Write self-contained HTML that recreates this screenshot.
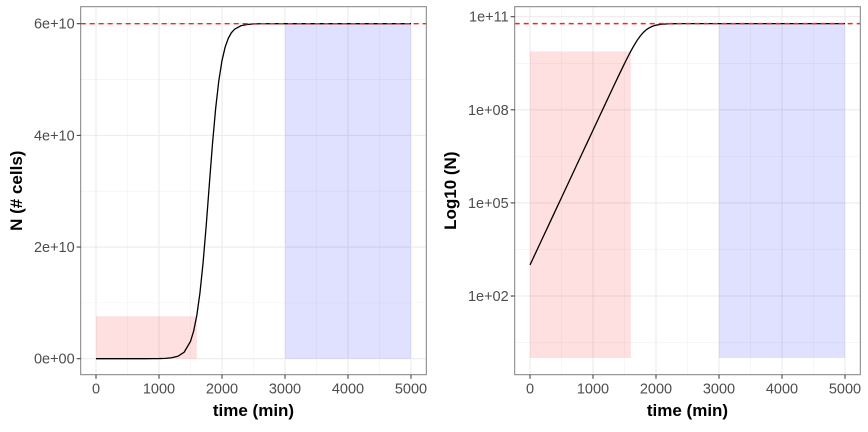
<!DOCTYPE html>
<html><head><meta charset="utf-8"><style>
body{margin:0;background:#fff;}
svg text{font-family:"Liberation Sans",Arial,sans-serif;}
</style></head><body>
<svg id="chart" width="868" height="427" xmlns="http://www.w3.org/2000/svg"></svg>
<script>
const times=[0,100,200,300,400,500,600,700,800,900,1000,1100,1200,1300,1400,1500,1550,1600,1650,1700,1750,1800,1850,1900,1950,2000,2050,2100,2150,2200,2300,2400,2500,2600,3000,4000,5000];
const cells=[1000,2718,7389,20086,54598,1.484e5,4.034e5,1.097e6,2.981e6,8.103e6,2.2e7,5.98e7,1.623e8,4.39e8,1.179e9,3.10e9,4.95e9,7.74e9,1.178e10,1.723e10,2.394e10,3.136e10,3.861e10,4.491e10,4.984e10,5.34e10,5.581e10,5.739e10,5.839e10,5.901e10,5.963e10,5.986e10,5.995e10,5.999e10,6e10,6e10,6e10];
const capacity=6e10;
const xTicks=[0,1000,2000,3000,4000,5000];
const linTicks=[0,2e10,4e10,6e10];
const linLabels=["0e+00","2e+10","4e+10","6e+10"];
const logTicks=[2,5,8,11];
const logLabels=["1e+02","1e+05","1e+08","1e+11"];
const expPhase=[0,1600,7.6e9];   // start, end, top
const statPhase=[3000,5000];
const logFloor=1;

const svg=document.getElementById('chart');
const NS='http://www.w3.org/2000/svg';
function mk(tag,attrs,parent){const e=document.createElementNS(NS,tag);for(const k in attrs)e.setAttribute(k,attrs[k]);(parent||svg).appendChild(e);return e;}

function panel(p){
  const g=mk('g',{});
  
  
  const X=t=>p.x0+(t-0)/5000*(p.x1-p.x0);
  const Y=p.Y;
  const minorX=[500,1500,2500,3500,4500];
  minorX.forEach(t=>mk('line',{x1:X(t),x2:X(t),y1:p.top,y2:p.bot,stroke:'#f2f2f2','stroke-width':0.6},g));
  p.minorY.forEach(v=>mk('line',{x1:p.left,x2:p.right,y1:Y(v),y2:Y(v),stroke:'#f2f2f2','stroke-width':0.6},g));
  xTicks.forEach(t=>mk('line',{x1:X(t),x2:X(t),y1:p.top,y2:p.bot,stroke:'#ebebeb','stroke-width':1.1},g));
  p.ticks.forEach(v=>mk('line',{x1:p.left,x2:p.right,y1:Y(v),y2:Y(v),stroke:'#ebebeb','stroke-width':1.1},g));
  const r1=mk('rect',{x:X(expPhase[0]),y:Y(p.expTop),width:X(expPhase[1])-X(expPhase[0]),height:Y(p.base)-Y(p.expTop),fill:'rgba(255,0,0,0.12)'},g);
  
  
  const r2=mk('rect',{x:X(statPhase[0]),y:Y(p.statTop),width:X(statPhase[1])-X(statPhase[0]),height:Y(p.base)-Y(p.statTop),fill:'rgba(0,0,255,0.12)'},g);
  
  
  const d=times.map((t,i)=>(i?'L':'M')+X(t).toFixed(2)+','+Y(p.val(cells[i])).toFixed(2)).join(' ');
  const path=mk('path',{d:d,fill:'none',stroke:'#000','stroke-width':1.3},g);
  
  
  const cl=mk('line',{x1:p.left,x2:p.right,y1:Y(p.cap),y2:Y(p.cap),stroke:'#ff2020','stroke-width':1.4,'stroke-dasharray':'5,4'},g);
  
  
  mk('rect',{x:p.left,y:p.top,width:p.right-p.left,height:p.bot-p.top,fill:'none',stroke:'#7f7f7f','stroke-width':1},g);
  xTicks.forEach(t=>{
    mk('line',{x1:X(t),x2:X(t),y1:p.bot,y2:p.bot+4,stroke:'#333','stroke-width':1},g);
    const tx=mk('text',{x:X(t),y:p.bot+19,'text-anchor':'middle','font-size':14.5,fill:'#4d4d4d'},g);
    tx.textContent=t;
    
    
  });
  p.ticks.forEach((v,i)=>{
    mk('line',{x1:p.left-4,x2:p.left,y1:Y(v),y2:Y(v),stroke:'#333','stroke-width':1},g);
    const tx=mk('text',{x:p.left-6,y:Y(v)+5,'text-anchor':'end','font-size':14.5,fill:'#4d4d4d'},g);
    tx.textContent=p.labels[i];
    
    
  });
  const xt=mk('text',{x:(p.left+p.right)/2,y:416,'text-anchor':'middle','font-size':17,'font-weight':'bold',fill:'#000'},g);
  xt.textContent='time (min)';
  
  
  const yt=mk('text',{x:0,y:0,'text-anchor':'middle','font-size':17,'font-weight':'bold',fill:'#000',transform:`translate(${p.ytx},${(p.top+p.bot)/2}) rotate(-90)`},g);
  yt.textContent=p.ytitle;
  
  
}

panel({name:'linear-panel',left:80.7,right:426.3,top:6.7,bot:374.7,x0:96,x1:411,
  Y:v=>358.7-v/6e10*(358.7-23.7),val:v=>v,ticks:linTicks,labels:linLabels,minorY:[1e10,3e10,5e10],
  base:0,expTop:expPhase[2],statTop:capacity,cap:capacity,ytx:22,ytitle:'N (# cells)'});
panel({name:'log-panel',left:514.7,right:860.3,top:6.7,bot:374.7,x0:530,x1:845,
  Y:v=>296-(v-2)*31.03,val:v=>Math.log10(v),ticks:logTicks,labels:logLabels,minorY:[0.5,3.5,6.5,9.5],
  base:Math.log10(logFloor),expTop:Math.log10(expPhase[2]),statTop:Math.log10(capacity),cap:Math.log10(capacity),ytx:456,ytitle:'Log10 (N)'});
</script>
</body></html>
